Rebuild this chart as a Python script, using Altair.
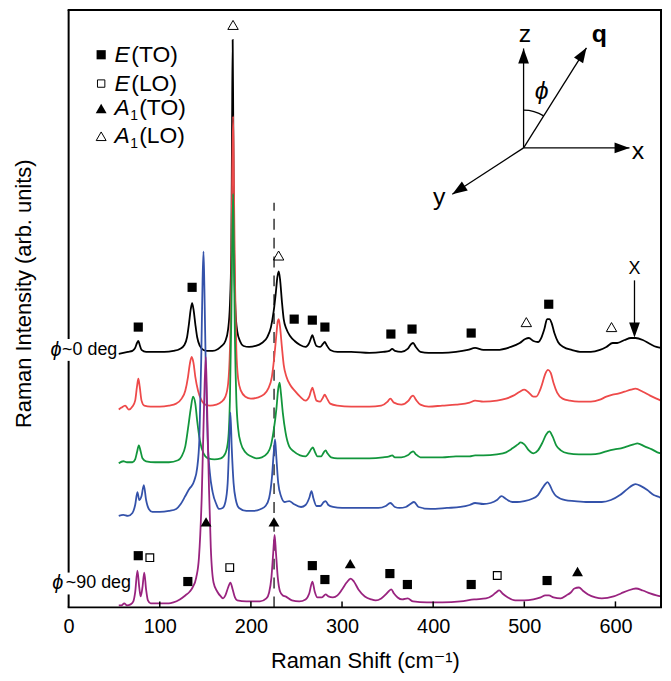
import altair as alt
import pandas as pd

# ---------------- values ----------------
# Raman shift (cm^-1), intensity (arb. units, traces offset vertically)
spec_black = [(55,255),(60,256),(65,257),(70,258),(73,261),(75,266),(76.5,268),(78,264),(80,259),(85,257),
    (95,257),(105,257),(115,258),(122,260),(127,264),(130,272),(132,285),(134,300),(135.5,306),(137,300),
    (139,285),(141,272),(144,263),(148,259),(152,258),(158,258),(164,260),(168,263),(172,268),(175,280),
    (177,305),(178.5,360),(179.3,480),(180,571),(180.7,480),(181.5,370),(183,300),(185,278),(188,268),
    (192,263),(198,262),(205,263),(212,266),(218,272),(222,282),(225,298),(227.5,318),(229,332),(230.5,338),
    (232,330),(234,308),(236,290),(239,280),(243,273),(248,268),(254,264),(260,262),(264,266),(266,271),
    (267.5,274),(269,270),(272,263),(276,262),(279,265),(281,267),(283,264),(287,259),(295,257),(310,257),
    (330,256),(345,257),(352,258),(355,260),(358,258),(365,257),(372,260),(376,265),(378,266),(381,262),
    (386,257),(395,256),(410,256),(425,257),(438,259),(446,261),(455,259),(470,259),(485,262),(495,266),
    (501,270),(505,271),(510,268),(515,267),(519,272),(522,280),(525,290),(527.5,290),(530,286),(533,276),
    (537,267),(543,262),(552,259),(563,257),(573,257),(583,259),(590,262),(597,266),(602,266),(610,269),
    (617,271),(622,271),(630,269),(638,265),(645,262),(650,261)]

spec_red = [(55,199),(58,201),(62,203),(66,199),(70,202),(73,208),(75,222),(76.5,230),(78,222),(80,208),
    (83,203),(90,202),(100,202),(110,203),(118,205),(124,210),(128,218),(131,232),(133,245),(135,252),
    (137,246),(139,232),(142,218),(146,208),(150,204),(155,203),(162,204),(168,207),(172,212),(175,225),
    (177,260),(178.5,330),(179.5,440),(180.5,494),(181.3,430),(182.5,330),(184,260),(186,230),(189,218),
    (194,212),(200,210),(207,211),(214,214),(219,220),(223,232),(226,255),(228,275),(229.5,288),(230.5,290),
    (232,282),(234,262),(236,244),(239,232),(243,224),(248,218),(254,212),(260,208),(264,212),(266,218),
    (267.5,221),(269,217),(272,208),(276,207),(279,211),(281,214),(283,211),(287,205),(295,203),(310,202),
    (330,202),(343,203),(350,207),(353,210),(357,206),(365,204),(373,208),(376,212),(378,213),(381,209),
    (386,204),(395,202),(410,203),(425,204),(440,206),(446,208),(455,207),(470,208),(480,210),(488,213),
    (495,217),(500,219),(505,216),(510,212),(513,212),(517,218),(520,226),(523,235),(526,239),(529,236),
    (532,226),(536,216),(542,210),(550,208),(560,207),(573,207),(583,209),(590,212),(597,214),(603,215),
    (610,217),(617,219),(622,220),(630,217),(638,213),(645,210),(650,208)]

spec_green = [(55,145),(60,147),(64,146),(70,146),(73,149),(75,156),(77,163),(79,157),(81,150),(85,147),
    (95,146),(110,146),(120,148),(124,152),(128,162),(131,180),(134,200),(136.5,212),(139,205),(141,188),
    (144,168),(148,155),(153,150),(160,149),(167,150),(172,155),(175,168),(177,210),(178.5,290),(179.5,370),
    (180.5,416),(181.3,360),(182.5,270),(184,210),(186,180),(189,165),(194,156),(200,152),(206,150),
    (212,151),(218,155),(222,163),(225,178),(228,200),(230,220),(231.5,226),(233,215),(235,196),(238,176),
    (242,162),(247,157),(254,153),(260,152),(264,156),(266,159),(268,161),(270,157),(273,152),(277,152),
    (280,156),(282,158),(284,155),(288,151),(295,150),(310,150),(330,150),(345,151),(352,152),(355,153),
    (358,151),(365,151),(372,153),(376,156),(378,157),(381,154),(386,151),(395,151),(410,151),(425,152),
    (440,152),(446,153),(455,153),(470,154),(480,156),(487,160),(493,164),(496,166),(500,164),(505,158),
    (510,155),(515,158),(520,166),(524,174),(527.5,177),(531,172),(535,163),(540,158),(548,155),(560,154),
    (573,154),(583,155),(590,157),(599,159),(606,160),(613,162),(620,164),(624,165),(632,162),(640,159),
    (646,156),(650,155)]

spec_blue = [(55,92),(60,93),(65,92),(70,95),(73,103),(75.5,116),(77.5,108),(80,112),(82.5,123),(85,108),
    (88,99),(92,96),(100,96),(110,97),(118,99),(123,104),(128,112),(133,120),(135,122),(138,128),(141,140),
    (143.5,170),(145.5,250),(147,330),(148,358),(149,320),(150.5,240),(152.5,170),(155,135),(158,116),
    (162,104),(165,99),(169,100),(172,106),(174.5,125),(176,160),(177.5,196),(179,160),(181,125),
    (183.5,108),(187,100),(195,97),(203,97),(211,99),(216,102),(220,110),(223,130),(225,155),(226.5,169),
    (228,150),(230,125),(233,112),(237,106),(242,107),(247,104),(255,101),(260,103),(264,110),(266.5,117),
    (268.5,110),(272,102),(276,102),(280,106),(282,107),(285,103),(290,101),(300,100),(320,100),(340,100),
    (348,102),(353,105),(358,101),(363,100),(370,101),(375,104),(379,106),(384,101),(397,99),(415,100),
    (430,101),(440,103),(446,105),(455,104),(463,105),(470,108),(475,112),(480,109),(487,106),(492,106),
    (500,107),(508,109),(515,113),(520,120),(523,124),(525.5,126),(528,123),(531,117),(535,112),(545,108),
    (555,107),(570,106),(585,106),(595,108),(605,113),(613,119),(619,123),(622,124),(628,122),(635,118),
    (642,113),(648,111),(650,110)]

spec_purple = [(55,2),(58,2),(61,4),(64,2),(68,3),(71,6),(73,15),(75.5,37),(77.5,20),(79,11),(81,20),
    (83,35),(85,18),(87,7),(90,4),(100,4),(110,4),(115,5),(122,8),(128,12),(133,16),(136,20),(140,30),
    (143,50),(146,110),(148.5,200),(150.5,252),(152,200),(154,120),(156,60),(159,25),(163,16),(167,11),
    (169.5,9),(172,12),(175,20),(177.5,25),(180,18),(182.5,10),(185,7),(195,6),(210,6),(217,9),(220,15),
    (222.5,30),(224.5,55),(226,73),(227.5,55),(229.5,30),(232,16),(235,12),(238,11),(245,7),(253,6),
    (260,8),(264,14),(267.5,26),(270,16),(273,10),(278,10),(282,13),(285,11),(290,10),(295,12),(300,18),
    (305,25),(309.5,29),(313,26),(318,18),(325,11),(332,8),(337,7),(343,9),(348,13),(351,16),(354,18),
    (357,14),(361,10),(366,8),(372,9),(378,6),(393,5),(410,5),(430,6),(445,8),(458,9),(465,12),(469,15),
    (472.5,17),(476,14),(482,10),(490,7),(500,7),(510,8),(518,10),(523,12),(527,12),(532,10),(540,9),
    (546,12),(551,15),(555,19),(560,20),(564,17),(570,13),(578,10),(585,9),(598,11),(606,14),(614,17),
    (622.5,19),(630,17),(638,14),(645,12),(650,11)]

spectra = [spec_black, spec_red, spec_green, spec_blue, spec_purple]
trace_colors = ["#000000", "#EE4A4A", "#12963C", "#3452AA", "#99237F"]

# mode assignments (shift, intensity position of the symbol)
mode_E_TO = [(76.4,282),(135.5,322),(247.5,290),(267.4,289),(281.2,282),(353.6,275),(376.8,280),
             (441.7,276),(526.8,305),(76.4,52),(130.8,26),(267.4,42),(281.2,28),(352.5,34),(371.7,23),
             (441.7,23),(525,27)]
mode_E_LO = [(89.1,50),(176.8,40),(470.3,32)]
mode_A1_TO = [(150.8,86),(225.3,86),(309,44),(558.4,36)]
mode_A1_LO = [(180.4,586),(230.4,354),(502.2,287),(595.7,282)]

legend_rows = [("E", "(TO)", 556), ("E", "(LO)", 527), ("A", "(TO)", 502), ("A", "(LO)", 474)]

x_ticks = [0, 100, 200, 300, 400, 500, 600]
x_range = [0, 650]
y_range = [0, 601]
dashed_at = 225.4

# geometry sketch (x, q, y, z axes) in the same plot units
sketch_origin = (499.2, 462.3)
sketch_tips = {"z": (499.2, 562.3, 0), "q": (568.2, 563.0, 32), "x": (615.4, 462.3, 90), "y": (421.0, 415.7, 237)}
sketch_labels = [("z", 500.6, 577.3, "normal"), ("x", 624.6, 459.0, "normal"), ("y", 406.5, 413.0, "normal")]

W, H = 596, 601
FONT = "Liberation Sans, Arial, DejaVu Sans"

xs = alt.Scale(domain=x_range, nice=False, zero=False)
ys = alt.Scale(domain=y_range, nice=False, zero=False)
X = alt.X("shift:Q", scale=xs, axis=alt.Axis(values=x_ticks, tickSize=0, domain=False, grid=False,
        labelFontSize=20, labelFont=FONT, labelColor="black", labelPadding=9, labelFlush=False,
        title="Raman Shift (cm⁻¹)", titleFont=FONT, titleFontSize=22, titleFontWeight="normal",
        titleColor="black", titlePadding=15))
Y = alt.Y("intensity:Q", scale=ys, axis=alt.Axis(labels=False, ticks=False, domain=False, grid=False,
        title="Raman Intensity (arb. units)", titleFont=FONT, titleFontSize=22, titleFontWeight="normal",
        titleColor="black", titlePadding=33, titleY=285))


def pts(rows, **extra):
    return pd.DataFrame([dict(shift=a, intensity=b, **extra) for a, b in rows])


layers = []
# dashed guide
layers.append(alt.Chart(pd.DataFrame({"shift": [dashed_at], "intensity": [0], "int2": [407]}))
              .mark_rule(color="black", strokeWidth=1.2, strokeDash=[11, 8])
              .encode(x=X, y=Y, y2="int2:Q"))
# spectra
for spec, col in zip(spectra, trace_colors):
    layers.append(alt.Chart(pts(spec)).mark_line(color=col, strokeWidth=1.8, interpolate="monotone")
                  .encode(x=X, y=Y, order="shift:Q"))
# mode symbols
layers.append(alt.Chart(pts(mode_E_TO)).mark_point(shape="square", filled=True, size=85, color="black", opacity=1)
              .encode(x=X, y=Y))
layers.append(alt.Chart(pts(mode_E_LO)).mark_point(shape="square", filled=False, size=60, color="black",
              strokeWidth=1.2, opacity=1).encode(x=X, y=Y))
layers.append(alt.Chart(pts(mode_A1_TO)).mark_point(shape="triangle-up", filled=True, size=120, color="black",
              opacity=1).encode(x=X, y=Y))
layers.append(alt.Chart(pts(mode_A1_LO)).mark_point(shape="triangle-up", filled=False, size=110, color="black",
              strokeWidth=1, opacity=1).encode(x=X, y=Y))

# plot frame (vertical and horizontal sides) and inward x ticks, in data units
x0, x1 = x_range
y0, y1 = y_range
frame_v = pd.DataFrame({"shift": [x0, x1], "intensity": [y0, y0], "int2": [y1, y1]})
frame_h = pd.DataFrame({"shift": [x0, x0], "sh2": [x1, x1], "intensity": [y0, y1]})
layers.append(alt.Chart(frame_v).mark_rule(color="black", strokeWidth=2)
              .encode(x=X, y=Y, y2="int2:Q"))
layers.append(alt.Chart(frame_h).mark_rule(color="black", strokeWidth=2, strokeCap="square")
              .encode(x=X, x2="sh2:Q", y=Y))
ticks_df = pd.DataFrame({"shift": x_ticks[1:], "intensity": [0] * 6, "int2": [6] * 6})
layers.append(alt.Chart(ticks_df).mark_rule(color="black", strokeWidth=1.5)
              .encode(x=X, y=Y, y2="int2:Q"))

# legend
leg_marks = [("square", True, 85), ("square", False, 55), ("triangle-up", True, 120), ("triangle-up", False, 100)]
for (shape, filled, size), (_, _, yv) in zip(leg_marks, legend_rows):
    layers.append(alt.Chart(pd.DataFrame({"shift": [35.7], "intensity": [yv]}))
                  .mark_point(shape=shape, filled=filled, size=size, color="black", opacity=1, strokeWidth=1)
                  .encode(x=X, y=Y))
leg_df = pd.DataFrame([dict(shift=50.2, intensity=yv, sym=s, rest=r, isA=(s == "A")) for s, r, yv in legend_rows])
layers.append(alt.Chart(leg_df).mark_text(align="left", baseline="middle", fontSize=23, font=FONT,
              fontStyle="italic").encode(x=X, y=Y, text="sym:N"))
layers.append(alt.Chart(leg_df[~leg_df.isA]).mark_text(align="left", baseline="middle", fontSize=23, font=FONT,
              dx=17).encode(x=X, y=Y, text="rest:N"))
layers.append(alt.Chart(leg_df[leg_df.isA]).mark_text(align="left", baseline="middle", fontSize=23, font=FONT,
              dx=25).encode(x=X, y=Y, text="rest:N"))
layers.append(alt.Chart(leg_df[leg_df.isA].assign(sub="1")).mark_text(align="left", baseline="middle",
              fontSize=14, font=FONT, dx=16, dy=8).encode(x=X, y=Y, text="sub:N"))

# angle labels at the left, masking the axis line
angle_labels = [("~0 deg", 53.4, 259, -56), ("~90 deg", 68.4, 24, -68)]
gap_df = pd.DataFrame([dict(shift=-4.5, sh2=4.5, intensity=yv - 11, int2=yv + 11) for _, _, yv, _ in angle_labels])
layers.append(alt.Chart(gap_df).mark_rect(color="white", opacity=1)
              .encode(x=X, x2="sh2:Q", y=Y, y2="int2:Q"))
for txt, xv, yv, off in angle_labels:
    d = pd.DataFrame({"shift": [xv], "intensity": [yv], "t": [txt], "p": ["ϕ"]})
    layers.append(alt.Chart(d).mark_text(align="right", baseline="middle", fontSize=18, font=FONT)
                  .encode(x=X, y=Y, text="t:N"))
    layers.append(alt.Chart(d).mark_text(align="right", baseline="middle", fontSize=20, font=FONT,
                  fontStyle="italic", dx=off).encode(x=X, y=Y, text="p:N"))

# arrow marking feature X
ARROW = "M0,0L-0.36,1L0.36,1Z"
layers.append(alt.Chart(pd.DataFrame({"shift": [620.9], "intensity": [329], "int2": [280]}))
              .mark_rule(color="black", strokeWidth=1.3).encode(x=X, y=Y, y2="int2:Q"))
layers.append(alt.Chart(pd.DataFrame({"shift": [620.9], "intensity": [271.5], "angle": [180]}))
              .mark_point(shape=ARROW, filled=True, size=900, color="black", opacity=1)
              .encode(x=X, y=Y, angle=alt.Angle("angle:Q", scale=None)))
layers.append(alt.Chart(pd.DataFrame({"shift": [620.9], "intensity": [340.7], "t": ["X"]}))
              .mark_text(fontSize=18, font=FONT, baseline="middle").encode(x=X, y=Y, text="t:N"))

# coordinate sketch
ox, oy = sketch_origin
shaft = pd.DataFrame([dict(shift=ox, intensity=oy, sh2=tx, int2=ty) for tx, ty, _ in sketch_tips.values()])
layers.append(alt.Chart(shaft).mark_rule(color="black", strokeWidth=1.3)
              .encode(x=X, y=Y, x2="sh2:Q", y2="int2:Q"))
heads = pd.DataFrame([dict(shift=tx, intensity=ty, angle=a) for tx, ty, a in sketch_tips.values()])
layers.append(alt.Chart(heads).mark_point(shape=ARROW, filled=True, size=900, color="black", opacity=1)
              .encode(x=X, y=Y, angle=alt.Angle("angle:Q", scale=None)))
lab = pd.DataFrame([dict(shift=a, intensity=b, t=t) for t, a, b, _ in sketch_labels])
layers.append(alt.Chart(lab).mark_text(fontSize=25, font=FONT, baseline="middle").encode(x=X, y=Y, text="t:N"))
layers.append(alt.Chart(pd.DataFrame({"shift": [582.4], "intensity": [577.3], "t": ["q"]}))
              .mark_text(fontSize=25, font=FONT, fontWeight="bold", baseline="middle").encode(x=X, y=Y, text="t:N"))
layers.append(alt.Chart(pd.DataFrame({"shift": [519.1], "intensity": [519], "t": ["ϕ"]}))
              .mark_text(fontSize=25, font=FONT, fontStyle="italic", baseline="middle").encode(x=X, y=Y, text="t:N"))
layers.append(alt.Chart(pd.DataFrame({"shift": [ox], "intensity": [oy]}))
              .mark_arc(theta=0, theta2=0.56, radius=38.6, radius2=37.4, color="black")
              .encode(x=X, y=Y))

chart = alt.layer(*layers).properties(
    width=W, height=H,
    background="white",
    autosize=alt.AutoSizeParams(type="none"),
    padding={"left": 61, "top": 0, "right": 2, "bottom": 64},
).configure_view(strokeWidth=0)

chart.save("out.html", embed_options={"renderer": "svg", "actions": False})
